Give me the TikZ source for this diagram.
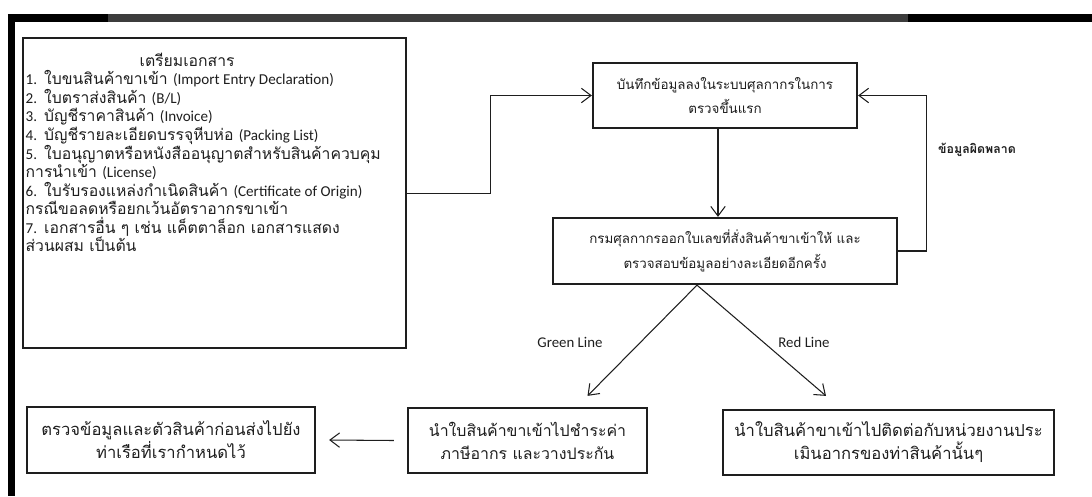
\documentclass[tikz,border=0pt]{standalone}
\usepackage{fontspec}
\setmainfont{Loma}[Script=Thai]
\newfontfamily\lat{Carlito}[Scale=0.96]
\usetikzlibrary{arrows.meta,positioning}
\definecolor{ink}{HTML}{1E1E1E}
\definecolor{rule}{HTML}{3C3C3C}

\begin{document}
\begin{tikzpicture}[x=1cm,y=1cm,>={Straight Barb[length=2.4mm,width=3.6mm]},
flow/.style={draw=ink,line width=1.6pt,fill=white,align=center,inner sep=1mm,text=ink,font=\fontsize{9.5}{17.5}\selectfont},
big/.style={font=\fontsize{11.8}{16.3}\selectfont},
link/.style={->,line width=0.75pt,ink},
tag/.style={text=ink,font=\fontsize{11}{13}\selectfont}]

\useasboundingbox (0,0) rectangle (27.3,-12.4);

% frame
\draw[line width=5.7pt,black] (0.2,-0.45) -- (2.7,-0.45);
\draw[line width=5.7pt,rule] (2.7,-0.45) -- (22.7,-0.45);
\draw[line width=5.7pt,black] (22.7,-0.45) -- (27.3,-0.45);
\draw[line width=5pt,black] (0.2875,-0.35) -- (0.2875,-12.4);

\node[flow,anchor=north west,minimum width=9.575cm,minimum height=7.75cm,inner sep=0pt,font=\fontsize{11.2}{13.2}\selectfont] (docs) at (0.55,-0.925){\parbox[c][7.55cm][t]{9.45cm}{\vspace*{0.27cm}\raggedright
\hspace*{2.85cm}เตรียมเอกสาร\\
{\lat 1.} ใบขนสินค้าขาเข้า {\lat (Import Entry Declaration)}\\
{\lat 2.} ใบตราส่งสินค้า {\lat (B/L)}\\
{\lat 3.} บัญชีราคาสินค้า {\lat (Invoice)}\\
{\lat 4.} บัญชีรายละเอียดบรรจุหีบห่อ {\lat (Packing List)}\\
{\lat 5.} ใบอนุญาตหรือหนังสืออนุญาตสำหรับสินค้าควบคุม\\
การนำเข้า {\lat (License)}\\
{\lat 6.} ใบรับรองแหล่งกำเนิดสินค้า {\lat (Certificate of Origin)}\\
กรณีขอลดหรือยกเว้นอัตราอากรขาเข้า\\
{\lat 7.} เอกสารอื่น ๆ เช่น แค็ตตาล็อก เอกสารแสดง\\
ส่วนผสม เป็นต้น}};

\node[flow,minimum width=6.6cm,minimum height=1.625cm] (entry) at (18.125,-2.3875){บันทึกข้อมูลลงในระบบศุลกากรในการ\\ตรวจขึ้นแรก};
\node[flow,minimum width=8.6cm,minimum height=1.65cm] (check) at (18.125,-6.275){กรมศุลกากรออกใบเลขที่สั่งสินค้าขาเข้าให้ และ\\ตรวจสอบข้อมูลอย่างละเอียดอีกครั้ง};
\node[flow,big,font=\fontsize{11.3}{16.3}\selectfont,minimum width=5.975cm,minimum height=1.625cm] (pay) at (13.1875,-11.0125){นำใบสินค้าขาเข้าไปชำระค่า\\ภาษีอากร และวางประกัน};
\node[flow,big,minimum width=7.2cm,minimum height=1.65cm] (goods) at (4.275,-11.0){ตรวจข้อมูลและตัวสินค้าก่อนส่งไปยัง\\ท่าเรือที่เรากำหนดไว้};
\node[flow,big,minimum width=8.275cm,minimum height=1.625cm] (assess) at (22.2125,-11.0625){นำใบสินค้าขาเข้าไปติดต่อกับหน่วยงานประ\\เมินอากรของท่าสินค้านั้นๆ};

\node[tag,font=\bfseries\fontsize{8.8}{11}\selectfont] (err) at (24.425,-3.75){ข้อมูลผิดพลาด};
\node[tag] (green) at (14.25,-8.55){\lat Green Line};
\node[tag] (red) at (20.1,-8.55){\lat Red Line};

\draw[link] (docs.east) -- ++(2.075,0) |- (entry.west);
\draw[link] ([xshift=-0.175cm]entry.south) -- ([xshift=-0.175cm]check.north);
\draw[link] (check.east) -- ++(0.7,0) |- (entry.east);
\coordinate (fork) at ([xshift=-0.7cm]check.south);
\draw[link] (fork) -- ([xshift=1.5cm,yshift=0.275cm]pay.north);
\draw[link] (fork) -- ([xshift=-1.5625cm,yshift=0.325cm]assess.north);
\draw[link] ([xshift=-0.325cm]pay.west) -- ([xshift=0.325cm]goods.east);
\end{tikzpicture}
\end{document}
